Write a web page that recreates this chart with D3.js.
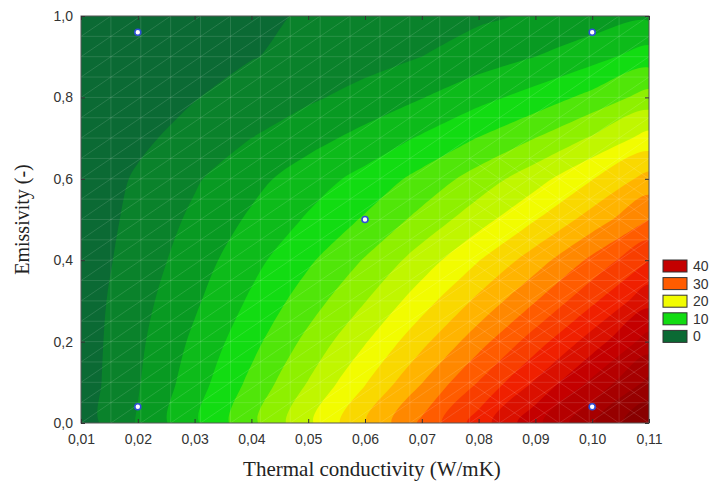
<!DOCTYPE html>
<html>
<head>
<meta charset="utf-8">
<script src="https://cdn.jsdelivr.net/npm/d3@7"></script>
<style>
  body { margin: 0; background: #fff; }
  svg { display: block; }
  .tick text { font-family: Arial, "Liberation Sans", sans-serif; font-size: 14px; fill: #333; }
  .legend text { font-family: Arial, "Liberation Sans", sans-serif; font-size: 14px; fill: #333; }
  .title { font-family: "Liberation Serif", "Times New Roman", serif; fill: #222; }
</style>
</head>
<body>
<div id="chart"></div>
<script>
// grid columns: thermal conductivity (W/mK)
var conductivity = [0.01, 0.02, 0.03, 0.04, 0.05, 0.06, 0.07, 0.08, 0.09, 0.10, 0.11];
// grid rows: emissivity, top row first
var emissivity = [1.0, 0.9, 0.8, 0.7, 0.6, 0.5, 0.4, 0.3, 0.2, 0.1, 0.0];

var resp100 = [0.0, 0.8, 1.5, 2.1, 2.7, 3.3, 3.9, 4.6, 5.3, 6.1, 7.0];
var resp090 = [0.3, 1.0, 1.8, 2.4, 3.1, 4.0, 5.0, 6.2, 7.5, 9.1, 11.2];
var resp080 = [0.5, 1.4, 2.4, 3.5, 4.6, 5.9, 7.4, 9.2, 11.0, 13.3, 16.0];
var resp070 = [0.7, 2.0, 3.4, 5.0, 6.6, 8.3, 10.3, 12.6, 15.0, 17.8, 20.9];
var resp060 = [0.9, 2.8, 4.7, 6.7, 8.8, 10.8, 13.3, 16.1, 19.0, 22.4, 25.9];
var resp050 = [1.0, 3.2, 5.5, 7.9, 10.3, 12.8, 15.8, 19.0, 22.4, 26.1, 30.0];
var resp040 = [1.1, 3.6, 6.3, 9.2, 12.1, 15.2, 18.7, 22.4, 26.3, 30.6, 35.0];
var resp030 = [1.2, 4.1, 7.1, 10.4, 13.8, 17.4, 21.4, 25.6, 29.9, 34.5, 39.2];
var resp020 = [1.2, 4.5, 8.0, 11.7, 15.7, 19.8, 24.3, 29.0, 33.8, 38.7, 43.6];
var resp010 = [1.2, 4.8, 8.8, 13.1, 17.6, 22.3, 27.4, 32.6, 37.8, 43.0, 48.1];
var resp000 = [1.2, 5.2, 9.6, 14.4, 19.5, 24.9, 30.5, 36.2, 41.8, 47.2, 52.4];

// design points
var designK = [0.02, 0.02, 0.06, 0.10, 0.10];
var designE = [0.04, 0.96, 0.50, 0.04, 0.96];

var xTicks = [0.01, 0.02, 0.03, 0.04, 0.05, 0.06, 0.07, 0.08, 0.09, 0.10, 0.11];
var yTicks = [0.0, 0.2, 0.4, 0.6, 0.8, 1.0];
var legendLevels = [40, 30, 20, 10, 0];
var bandStep = 2.5;

// colour stops of the map
var stopValues = [0, 5, 10, 15, 20, 25, 30, 35, 40, 50];
var stopColours = ["#0b6a34", "#089a22", "#12dc12", "#8ef000", "#f2fc00", "#ffb400", "#ff5c00", "#f02000", "#c40000", "#880000"];

var W = 713, H = 482;
var margin = { left: 81, top: 16, right: 64, bottom: 59 };
var width = W - margin.left - margin.right;
var height = H - margin.top - margin.bottom;

var locale = d3.formatLocale({ decimal: ",", thousands: ".", grouping: [3], currency: ["", ""] });

var x = d3.scaleLinear().domain([0.01, 0.11]).range([0, width]);
var y = d3.scaleLinear().domain([0, 1]).range([height, 0]);
var colour = d3.scaleLinear().domain(stopValues).range(stopColours).clamp(true);

var svg = d3.select("#chart").append("svg").attr("width", W).attr("height", H);
var g = svg.append("g").attr("transform", "translate(" + margin.left + "," + margin.top + ")");

g.append("clipPath").attr("id", "plot-clip")
  .append("rect").attr("width", width).attr("height", height);

var plot = g.append("g").attr("clip-path", "url(#plot-clip)");

plot.append("rect").attr("width", width).attr("height", height).attr("fill", colour(0));

// contour bands
var response = [resp100, resp090, resp080, resp070, resp060, resp050, resp040, resp030, resp020, resp010, resp000];
var values = [].concat.apply([], response);
var nx = conductivity.length, ny = emissivity.length;
var gx = d3.scaleLinear().domain([0.5, nx - 0.5]).range([conductivity[0], conductivity[nx - 1]]);
var gy = d3.scaleLinear().domain([0.5, ny - 0.5]).range([emissivity[0], emissivity[ny - 1]]);

var bands = d3.contours().size([nx, ny]).thresholds(d3.range(0, 55, bandStep))(values);

var ringLine = d3.line()
  .x(function(p) { return x(gx(p[0])); })
  .y(function(p) { return y(gy(p[1])); })
  .curve(d3.curveCatmullRomClosed.alpha(0.5));

function bandPath(c) {
  return c.coordinates.map(function(poly) {
    return poly.map(function(ring) { return ringLine(ring.slice(0, -1)); }).join("");
  }).join("");
}

plot.selectAll("path.band").data(bands).enter().append("path")
  .attr("class", "band")
  .attr("d", bandPath)
  .attr("fill", function(d) { return colour(d.value); });

// faint triangulation mesh
var cols = 19, rows = 20;
var cw = width / cols, rh = height / rows;
var mesh = plot.append("g").attr("stroke", "#fff").attr("stroke-opacity", 0.14).attr("stroke-width", 0.9);
mesh.selectAll("line.v").data(d3.range(1, cols)).enter().append("line")
  .attr("x1", function(i) { return i * cw; }).attr("x2", function(i) { return i * cw; })
  .attr("y1", 0).attr("y2", height);
mesh.selectAll("line.h").data(d3.range(1, rows)).enter().append("line")
  .attr("y1", function(j) { return j * rh; }).attr("y2", function(j) { return j * rh; })
  .attr("x1", 0).attr("x2", width);
var cells = d3.cross(d3.range(cols), d3.range(rows));
mesh.selectAll("line.d1").data(cells).enter().append("line")
  .attr("x1", function(c) { return c[0] * cw; }).attr("y1", function(c) { return (c[1] + 1) * rh; })
  .attr("x2", function(c) { return (c[0] + 1) * cw; }).attr("y2", function(c) { return c[1] * rh; });
mesh.selectAll("line.d2").data(cells.filter(function(c) { return c[0] >= 13 && c[1] >= 7; })).enter().append("line")
  .attr("x1", function(c) { return c[0] * cw; }).attr("y1", function(c) { return c[1] * rh; })
  .attr("x2", function(c) { return (c[0] + 1) * cw; }).attr("y2", function(c) { return (c[1] + 1) * rh; });

// frame
g.append("rect").attr("width", width).attr("height", height)
  .attr("fill", "none").attr("stroke", "#555").attr("stroke-width", 1);

// axes
var xAxis = g.append("g").attr("transform", "translate(0," + height + ")")
  .call(d3.axisBottom(x).tickValues(xTicks).tickFormat(locale.format(".2f"))
    .tickSizeInner(-4).tickSizeOuter(0).tickPadding(11));
var xTop = g.append("g")
  .call(d3.axisTop(x).tickValues(xTicks).tickFormat("").tickSizeInner(-4).tickSizeOuter(0));
var yAxis = g.append("g")
  .call(d3.axisLeft(y).tickValues(yTicks).tickFormat(locale.format(".1f"))
    .tickSizeInner(-4).tickSizeOuter(0).tickPadding(8));
var yRight = g.append("g").attr("transform", "translate(" + width + ",0)")
  .call(d3.axisRight(y).tickValues(yTicks).tickFormat("").tickSizeInner(-4).tickSizeOuter(0));
[xAxis, xTop, yAxis, yRight].forEach(function(a) {
  a.select(".domain").remove();
  a.selectAll(".tick line").attr("stroke", "#333");
});
xAxis.selectAll("text").attr("dy", "0.71em");

// design points
g.selectAll("circle.pt").data(designK).enter().append("circle")
  .attr("class", "pt")
  .attr("cx", function(d) { return x(d); })
  .attr("cy", function(d, i) { return y(designE[i]); })
  .attr("r", 3)
  .attr("fill", "#fff")
  .attr("stroke", "#2f4fd6")
  .attr("stroke-width", 1.6);

// axis titles
svg.append("text").attr("class", "title")
  .attr("x", 372).attr("y", 476)
  .attr("text-anchor", "middle").style("font-size", "21px")
  .text("Thermal conductivity (W/mK)");
svg.append("text").attr("class", "title")
  .attr("transform", "translate(29," + (margin.top + height / 2) + ")rotate(-90)")
  .attr("text-anchor", "middle").style("font-size", "20px")
  .text("Emissivity (-)");

// legend
var legend = svg.append("g").attr("class", "legend").attr("transform", "translate(663,260)");
var item = legend.selectAll("g").data(legendLevels).enter().append("g")
  .attr("transform", function(d, i) { return "translate(0," + (i * 17.6) + ")"; });
item.append("rect").attr("width", 24).attr("height", 12)
  .attr("fill", function(d) { return colour(d); })
  .attr("stroke", "#333").attr("stroke-width", 1);
item.append("text").attr("x", 30).attr("y", 6).attr("dy", "0.36em")
  .text(function(d) { return d; });
</script>
</body>
</html>
